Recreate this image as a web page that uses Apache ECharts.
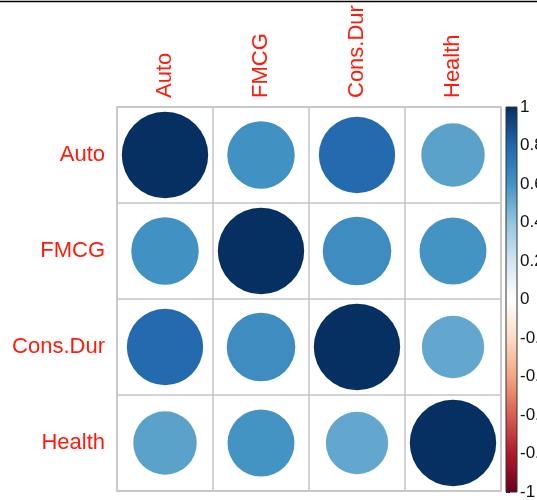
<!DOCTYPE html>
<html>
<head>
<meta charset="utf-8">
<script src="https://cdn.jsdelivr.net/npm/echarts@6/dist/echarts.min.js"></script>
<style>
  html, body { margin: 0; padding: 0; background: #fff; }
  #main { width: 537px; height: 500px; }
</style>
</head>
<body>
<div id="main"></div>
<script>
// variables of the correlation matrix
const labels = ['Auto', 'FMCG', 'Cons.Dur', 'Health'];
// one row of correlations per variable
const rowAuto    = [1.00, 0.61, 0.78, 0.54];
const rowFMCG    = [0.61, 1.00, 0.63, 0.60];
const rowConsDur = [0.78, 0.63, 1.00, 0.52];
const rowHealth  = [0.54, 0.60, 0.52, 1.00];
// RdBu palette, from -1 to 1
const palette = ['#67001F', '#B2182B', '#D6604D', '#F4A582', '#FDDBC7', '#FFFFFF',
                 '#D1E5F0', '#92C5DE', '#4393C3', '#2166AC', '#053061'];

const rows = [rowAuto, rowFMCG, rowConsDur, rowHealth];
const cells = [];
rows.forEach((row, i) => {
  row.forEach((v, j) => cells.push([j, i, v]));
});

const font = 'Liberation Sans, Arial, sans-serif';
const myChart = echarts.init(document.getElementById('main'));

// gradient for the colour legend (top = 1)
const stops = palette.slice().reverse().map((c, k) => ({ offset: k / (palette.length - 1), color: c }));

const option = {
  backgroundColor: '#fff',
  animation: false,
  textStyle: { fontFamily: font },
  grid: [
    { left: 117, top: 107, width: 384, height: 384, outerBoundsMode: 'none', containLabel: false,
      show: true, borderColor: '#c4c4c4', borderWidth: 1.5, backgroundColor: 'transparent' },
    { left: 506, top: 107, width: 11, height: 385, outerBoundsMode: 'none', containLabel: false }
  ],
  xAxis: [
    {
      type: 'category', data: labels, position: 'top', gridIndex: 0,
      axisLine: { show: false }, axisTick: { show: false },
      axisLabel: { interval: 0, rotate: -90, color: '#ff1a0a', fontSize: 22, margin: 9, fontFamily: font },
      splitLine: { show: true, interval: 0, lineStyle: { color: '#c4c4c4', width: 1.5 } }
    },
    { type: 'value', gridIndex: 1, min: 0, max: 1, show: false }
  ],
  yAxis: [
    {
      type: 'category', data: labels, inverse: true, gridIndex: 0,
      axisLine: { show: false }, axisTick: { show: false },
      axisLabel: { interval: 0, color: '#ff1a0a', fontSize: 22, margin: 12, fontFamily: font },
      splitLine: { show: true, interval: 0, lineStyle: { color: '#c4c4c4', width: 1.5 } }
    },
    {
      type: 'value', gridIndex: 1, min: -1, max: 1, interval: 0.2, position: 'right',
      axisLine: { show: false },
      axisTick: { show: true, length: 4, lineStyle: { color: '#222' } },
      axisLabel: { color: '#111', fontSize: 17, margin: 3, fontFamily: font },
      splitLine: { show: false }
    }
  ],
  visualMap: {
    type: 'continuous', show: false, min: -1, max: 1, dimension: 2, seriesIndex: 0,
    inRange: { color: palette }
  },
  series: [
    {
      type: 'custom',
      xAxisIndex: 0, yAxisIndex: 0,
      encode: { x: 0, y: 1 },
      data: cells,
      renderItem: function (params, api) {
        const c = api.coord([api.value(0), api.value(1)]);
        const s = api.size([1, 1]);
        const r = 0.45 * Math.min(s[0], s[1]) * Math.sqrt(Math.abs(api.value(2)));
        return {
          type: 'circle',
          shape: { cx: c[0], cy: c[1], r: r },
          style: { fill: api.visual('color') }
        };
      }
    },
    {
      type: 'custom',
      xAxisIndex: 1, yAxisIndex: 1,
      encode: { x: 0, y: 1 },
      data: [[0, -1]],
      silent: true,
      clip: false,
      renderItem: function (params, api) {
        const tl = api.coord([0, 1]);
        const br = api.coord([1, -1]);
        return {
          type: 'rect',
          shape: { x: tl[0], y: tl[1], width: br[0] - tl[0], height: br[1] - tl[1] },
          style: {
            fill: new echarts.graphic.LinearGradient(0, 0, 0, 1, stops),
            stroke: '#333', lineWidth: 1
          }
        };
      }
    }
  ],
  graphic: [
    { type: 'line', shape: { x1: 0, y1: 1.5, x2: 537, y2: 1.5 }, style: { stroke: '#000', lineWidth: 1.5 } }
  ]
};

myChart.setOption(option);
</script>
</body>
</html>
